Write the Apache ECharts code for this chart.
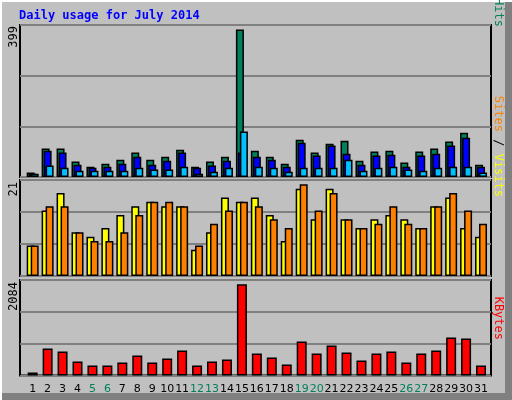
<!DOCTYPE html>
<html><head><meta charset="utf-8">
<script src="https://cdn.jsdelivr.net/npm/echarts@6/dist/echarts.min.js"></script>
<style>html,body{margin:0;padding:0;background:#C0C0C0}#c{width:512px;height:400px}</style>
</head><body><div id="c"></div>
<script>
const days = ['1','2','3','4','5','6','7','8','9','10','11','12','13','14','15','16','17','18','19','20','21','22','23','24','25','26','27','28','29','30','31'];
const weekend = ['5','6','12','13','19','20','26','27'];
const hits  = [12,77,77,42,28,36,47,66,47,55,74,28,42,55,399,71,55,36,101,66,90,98,44,69,71,39,69,77,96,120,33];
const files = [9,71,66,33,25,28,36,55,33,44,66,25,31,44,66,55,47,28,93,58,85,63,33,58,60,28,58,63,85,106,28];
const pages = [9,31,25,17,17,17,17,25,20,20,28,9,14,25,123,28,25,14,25,25,25,47,17,25,28,20,17,25,28,28,12];
const visits = [7,15,19,10,9,11,14,16,17,16,16,6,10,18,17,18,14,8,20,13,20,13,11,13,14,13,11,16,18,11,9];
const sites  = [7,16,16,10,8,8,10,14,17,17,16,7,12,15,17,16,13,11,21,15,19,13,11,12,16,12,11,16,19,15,12];
const kbytes = [69,618,550,321,229,229,298,458,298,389,573,229,321,366,2084,504,412,252,779,504,687,527,344,504,550,298,504,573,870,847,229];
const maxLabels = ['399','21','2084'];

const topMax = 411.5, midMax = 22, botMax = 2182;
const panels = [{top:25,h:152,max:topMax},{top:180,h:96,max:midMax},{top:280,h:95.5,max:botMax}];
const grids = [], xAxes = [], yAxes = [];
panels.forEach((p,i)=>{
  grids.push({left:20,width:471,top:p.top,height:p.h,show:true,borderColor:'#000',borderWidth:2,backgroundColor:'#C0C0C0'});
  grids.push({left:25.2,width:463.3,top:p.top,height:p.h});
  xAxes.push({gridIndex:2*i,type:'category',data:days,show:false});
  xAxes.push({gridIndex:2*i+1,type:'category',data:days,axisLine:{show:false},axisTick:{show:false},
    axisLabel:{show:i===2,margin:8,fontFamily:'DejaVu Sans',fontSize:11,color:'#000',interval:0,
      formatter:v=>weekend.includes(v)?'{w|'+v+'}':v,rich:{w:{color:'#00805C',fontFamily:'DejaVu Sans',fontSize:11}}}});
  yAxes.push({gridIndex:2*i,type:'value',min:0,max:p.max,interval:p.max/3,axisLine:{show:false},axisTick:{show:false},axisLabel:{show:false},
    splitLine:{lineStyle:{color:'#808080',width:2}}});
  yAxes.push({gridIndex:2*i+1,type:'value',min:0,max:p.max,show:false,splitLine:{show:false}});
});
const bs = {borderColor:'#000',borderWidth:1.5};
const series = [
  {type:'bar',xAxisIndex:1,yAxisIndex:1,data:hits,barWidth:8,barGap:'-75%',itemStyle:Object.assign({color:'#00805C'},bs)},
  {type:'bar',xAxisIndex:1,yAxisIndex:1,data:files,barWidth:8,barGap:'-75%',itemStyle:Object.assign({color:'#0000FF'},bs)},
  {type:'bar',xAxisIndex:1,yAxisIndex:1,data:pages,barWidth:8,barGap:'-75%',itemStyle:Object.assign({color:'#00C0FF'},bs)},
  {type:'bar',xAxisIndex:3,yAxisIndex:3,data:visits,barWidth:8,barGap:'-50%',itemStyle:Object.assign({color:'#FFFF00'},bs)},
  {type:'bar',xAxisIndex:3,yAxisIndex:3,data:sites,barWidth:8,barGap:'-50%',itemStyle:Object.assign({color:'#FF8000'},bs)},
  {type:'bar',xAxisIndex:5,yAxisIndex:5,data:kbytes,barWidth:10,itemStyle:Object.assign({color:'#FF0000'},bs)}
];
const mono = 'DejaVu Sans Mono';
const rot = (x,y,rich,text)=>({type:'text',x:x,y:y,rotation:Math.PI/2,style:{text:text,rich:rich,font:'11px '+mono,fill:'#000',align:'right',verticalAlign:'middle'}});
const chart = echarts.init(document.getElementById('c'),null,{renderer:'canvas'});
chart.setOption({
  animation:false,backgroundColor:'#C0C0C0',
  grid:grids,xAxis:xAxes,yAxis:yAxes,series:series,
  graphic:[
    {type:'rect',shape:{x:505,y:0,width:7,height:400},style:{fill:'#808080'},silent:true},
    {type:'rect',shape:{x:0,y:393,width:512,height:7},style:{fill:'#808080'},silent:true},
    {type:'rect',shape:{x:0,y:0,width:512,height:2},style:{fill:'#fff'},silent:true},
    {type:'rect',shape:{x:0,y:0,width:2,height:400},style:{fill:'#fff'},silent:true},
    {type:'text',x:19,y:16,style:{text:'Daily usage for July 2014',font:'bold 12px '+mono,fill:'#0000FF',verticalAlign:'middle'}},
    {type:'text',x:14,y:26,rotation:Math.PI/2,style:{text:maxLabels[0],font:'12px '+mono,fill:'#000',align:'right',verticalAlign:'middle'}},
    {type:'text',x:14,y:182,rotation:Math.PI/2,style:{text:maxLabels[1],font:'12px '+mono,fill:'#000',align:'right',verticalAlign:'middle'}},
    {type:'text',x:14,y:282,rotation:Math.PI/2,style:{text:maxLabels[2],font:'12px '+mono,fill:'#000',align:'right',verticalAlign:'middle'}},
    {type:'text',x:498,y:27,rotation:-Math.PI/2,style:{text:'{p|Pages} / {f|Files} / {h|Hits}',font:'12px '+mono,fill:'#000',align:'right',verticalAlign:'middle',
      rich:{p:{fill:'#00C0FF',font:'12px '+mono},f:{fill:'#0000FF',font:'12px '+mono},h:{fill:'#00805C',font:'12px '+mono}}}},
    {type:'text',x:498,y:197,rotation:-Math.PI/2,style:{text:'{s|Sites} / {v|Visits}',font:'12px '+mono,fill:'#000',align:'right',verticalAlign:'middle',
      rich:{s:{fill:'#FF8000',font:'12px '+mono},v:{fill:'#FFFF00',font:'12px '+mono}}}},
    {type:'text',x:498,y:340,rotation:-Math.PI/2,style:{text:'KBytes',font:'12px '+mono,fill:'#FF0000',align:'right',verticalAlign:'middle'}}
  ]
});
</script></body></html>
